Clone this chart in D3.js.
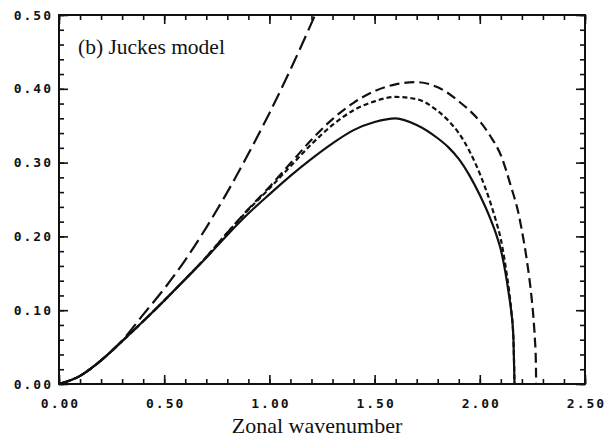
<!DOCTYPE html>
<html>
<head>
<meta charset="utf-8">
<script src="https://cdn.jsdelivr.net/npm/d3@7"></script>
<style>
  html, body { margin: 0; padding: 0; background: #fff; }
  svg { display: block; }
  .tick text { font-family: "DejaVu Sans Mono", monospace; font-weight: bold; font-size: 13px; letter-spacing: 2px; fill: #111; }
</style>
</head>
<body>
<svg id="chart" width="608" height="437"></svg>
<script>
// ---- data ----
const xMajorTicks = [0, 0.5, 1.0, 1.5, 2.0, 2.5];
const xTickLabels = ["0.00", "0.50", "1.00", "1.50", "2.00", "2.50"];
const yMajorTicks = [0, 0.1, 0.2, 0.3, 0.4, 0.5];
const yTickLabels = ["0.00", "0.10", "0.20", "0.30", "0.40", "0.50"];

const kSolid = [0,0.1,0.2,0.3,0.4,0.5,0.6,0.7,0.8,0.9,1.0,1.1,1.2,1.3,1.4,1.5,1.6,1.7,1.8,1.85,1.9,1.95,2.0,2.05,2.08,2.1,2.12,2.14,2.15,2.16,2.165];
const gSolid = [0,0.011,0.032,0.058,0.085,0.113,0.142,0.171,0.202,0.231,0.257,0.282,0.305,0.326,0.344,0.355,0.360,0.351,0.333,0.321,0.305,0.283,0.256,0.224,0.201,0.182,0.154,0.118,0.097,0.060,0];

const kShort = [0,0.1,0.2,0.3,0.4,0.5,0.6,0.7,0.8,0.9,1.0,1.1,1.2,1.3,1.4,1.5,1.6,1.7,1.8,1.85,1.9,1.95,2.0,2.05,2.08,2.1,2.12,2.14,2.15,2.16,2.165];
const gShort = [0,0.011,0.032,0.058,0.085,0.113,0.142,0.172,0.205,0.236,0.265,0.295,0.325,0.351,0.371,0.383,0.389,0.386,0.370,0.357,0.340,0.316,0.285,0.246,0.218,0.196,0.164,0.124,0.099,0.060,0];

const kMedium = [0,0.1,0.2,0.3,0.4,0.5,0.6,0.7,0.8,0.9,1.0,1.1,1.2,1.3,1.4,1.5,1.6,1.7,1.8,1.85,1.9,1.95,2.0,2.05,2.1,2.15,2.18,2.2,2.225,2.245,2.255,2.262,2.266,2.268];
const gMedium = [0,0.011,0.032,0.058,0.085,0.113,0.142,0.172,0.205,0.237,0.267,0.299,0.331,0.359,0.381,0.397,0.406,0.409,0.402,0.394,0.383,0.371,0.356,0.336,0.310,0.266,0.236,0.208,0.165,0.120,0.090,0.060,0.035,0];

const kLong = [0,0.1,0.2,0.3,0.4,0.5,0.6,0.7,0.8,0.9,1.0,1.1,1.2,1.25];
const gLong = [0,0.011,0.032,0.059,0.094,0.129,0.168,0.212,0.260,0.312,0.367,0.426,0.489,0.522];

// ---- layout ----
const svg = d3.select("#chart");
const L = 59, R = 585, T = 15, B = 384;
const x = d3.scaleLinear().domain([0, 2.5]).range([L, R]);
const y = d3.scaleLinear().domain([0, 0.5]).range([B, T]);

const xMinor = d3.range(0, 2.5001, 0.1).map(v => +v.toFixed(2));
const yMinor = d3.range(0, 0.5001, 0.02).map(v => +v.toFixed(3));

svg.append("defs").append("clipPath").attr("id", "plotclip")
  .append("rect").attr("x", L).attr("y", T).attr("width", R - L).attr("height", B - T);

function addAxis(axisFn, scale, transform, vals, size, labels) {
  const a = axisFn(scale).tickValues(vals).tickSizeInner(-size).tickSizeOuter(0);
  if (labels) a.tickFormat((d, i) => labels[i]).tickPadding(labels.pad);
  else a.tickFormat("");
  const g = svg.append("g").attr("transform", transform).call(a);
  g.select(".domain").remove();
  g.selectAll(".tick line").attr("stroke", "#111").attr("stroke-width", 1.6);
  return g;
}
// minor ticks (inward)
addAxis(d3.axisBottom, x, `translate(0,${B})`, xMinor, 5, null);
addAxis(d3.axisTop, x, `translate(0,${T})`, xMinor, 5, null);
addAxis(d3.axisLeft, y, `translate(${L},0)`, yMinor, 5, null);
addAxis(d3.axisRight, y, `translate(${R},0)`, yMinor, 5, null);

// major ticks + labels
const xl = xTickLabels.slice(); xl.pad = 15;
const yl = yTickLabels.slice(); yl.pad = 6;
const gxb = addAxis(d3.axisBottom, x, `translate(0,${B})`, xMajorTicks, 9, xl);
gxb.selectAll(".tick text").attr("dx", "1px");
addAxis(d3.axisTop, x, `translate(0,${T})`, xMajorTicks, 9, null);
addAxis(d3.axisLeft, y, `translate(${L},0)`, yMajorTicks, 9, yl);
addAxis(d3.axisRight, y, `translate(${R},0)`, yMajorTicks, 9, null);

// frame
svg.append("rect").attr("x", L).attr("y", T).attr("width", R - L).attr("height", B - T)
  .attr("fill", "none").attr("stroke", "#111").attr("stroke-width", 2);

// curves
const line = d3.line().x(d => x(d[0])).y(d => y(d[1])).curve(d3.curveMonotoneX);
const curves = [
  { k: kLong, g: gLong, dash: "15,6" },
  { k: kMedium, g: gMedium, dash: "10,5" },
  { k: kShort, g: gShort, dash: "5,3" },
  { k: kSolid, g: gSolid, dash: null }
];
const pg = svg.append("g").attr("clip-path", "url(#plotclip)");
curves.forEach(c => {
  pg.append("path")
    .datum(d3.zip(c.k, c.g))
    .attr("d", line)
    .attr("fill", "none")
    .attr("stroke", "#111")
    .attr("stroke-width", 2.2)
    .attr("stroke-dasharray", c.dash);
});

// texts
svg.append("text").attr("x", 78).attr("y", 54)
  .attr("font-family", "'Liberation Serif', 'Times New Roman', serif")
  .attr("font-size", 21.5).attr("fill", "#111")
  .text("(b) Juckes model");

svg.append("text").attr("x", 317).attr("y", 433).attr("text-anchor", "middle")
  .attr("font-family", "'Liberation Serif', 'Times New Roman', serif")
  .attr("font-size", 22).attr("fill", "#111")
  .text("Zonal wavenumber");
</script>
</body>
</html>
